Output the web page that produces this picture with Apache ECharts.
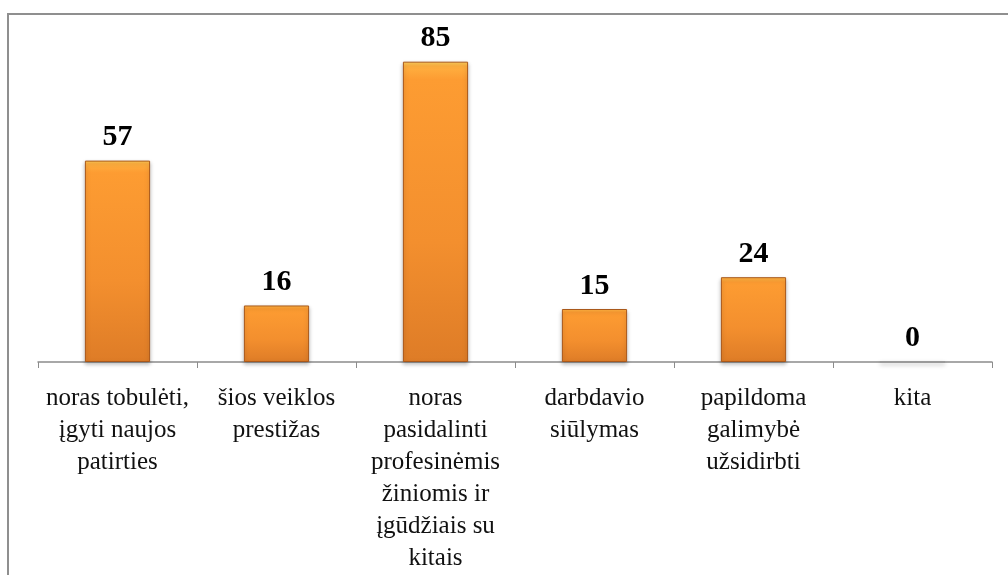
<!DOCTYPE html>
<html>
<head>
<meta charset="utf-8">
<script src="https://cdn.jsdelivr.net/npm/echarts@6/dist/echarts.min.js"></script>
<style>
  html, body { margin: 0; padding: 0; background: #fff; }
  #chart { width: 1008px; height: 575px; }
</style>
</head>
<body>
<div id="chart"></div>
<script>
const categories = [
  'noras tobulėti,\nįgyti naujos\npatirties',
  'šios veiklos\nprestižas',
  'noras\npasidalinti\nprofesinėmis\nžiniomis ir\nįgūdžiais su\nkitais',
  'darbdavio\nsiūlymas',
  'papildoma\ngalimybė\nužsidirbti',
  'kita'
]
const values = [57, 16, 85, 15, 24, 0]

const serif = "'Liberation Serif', 'Times New Roman', 'DejaVu Serif', serif"

const chart = echarts.init(document.getElementById('chart'))

const barColor = new echarts.graphic.LinearGradient(0, 0, 0, 1, [
  { offset: 0, color: '#ffd25c' },
  { offset: 0.015, color: '#ffb040' },
  { offset: 0.06, color: '#fd9c32' },
  { offset: 0.6, color: '#f38f2e' },
  { offset: 1, color: '#de7c27' }
])

// empty bars show only as a grey outline on the axis
const barData = values.map(v => v === 0
  ? { value: v, itemStyle: { borderColor: '#9a9a9a', borderWidth: 2 } }
  : v)

const option = {
  animation: false,
  graphic: [{
    type: 'rect',
    shape: { x: 8, y: 14, width: 1010, height: 580 },
    style: { fill: 'none', stroke: '#8f8f8f', lineWidth: 2 },
    silent: true
  }],
  grid: { left: 38, right: 16, top: 44, bottom: 213 },
  xAxis: {
    type: 'category',
    data: categories,
    axisLine: { lineStyle: { color: '#8c8c8c', width: 1.5 } },
    axisTick: { show: true, length: 6, lineStyle: { color: '#8c8c8c' } },
    axisLabel: {
      interval: 0,
      color: '#111',
      fontFamily: serif,
      fontSize: 25,
      lineHeight: 32,
      margin: 20,
      align: 'center'
    }
  },
  yAxis: {
    type: 'value',
    min: 0,
    max: 90,
    show: false
  },
  series: [{
    type: 'bar',
    data: barData,
    barWidth: '41%',
    itemStyle: {
      color: barColor,
      borderColor: '#a9581a',
      borderWidth: 1,
      shadowColor: 'rgba(0,0,0,0.25)',
      shadowBlur: 4,
      shadowOffsetY: 2
    },
    label: {
      show: true,
      position: 'top',
      distance: 8,
      color: '#000',
      fontFamily: serif,
      fontWeight: 'bold',
      fontSize: 30
    }
  }]
}

chart.setOption(option)
</script>
</body>
</html>
